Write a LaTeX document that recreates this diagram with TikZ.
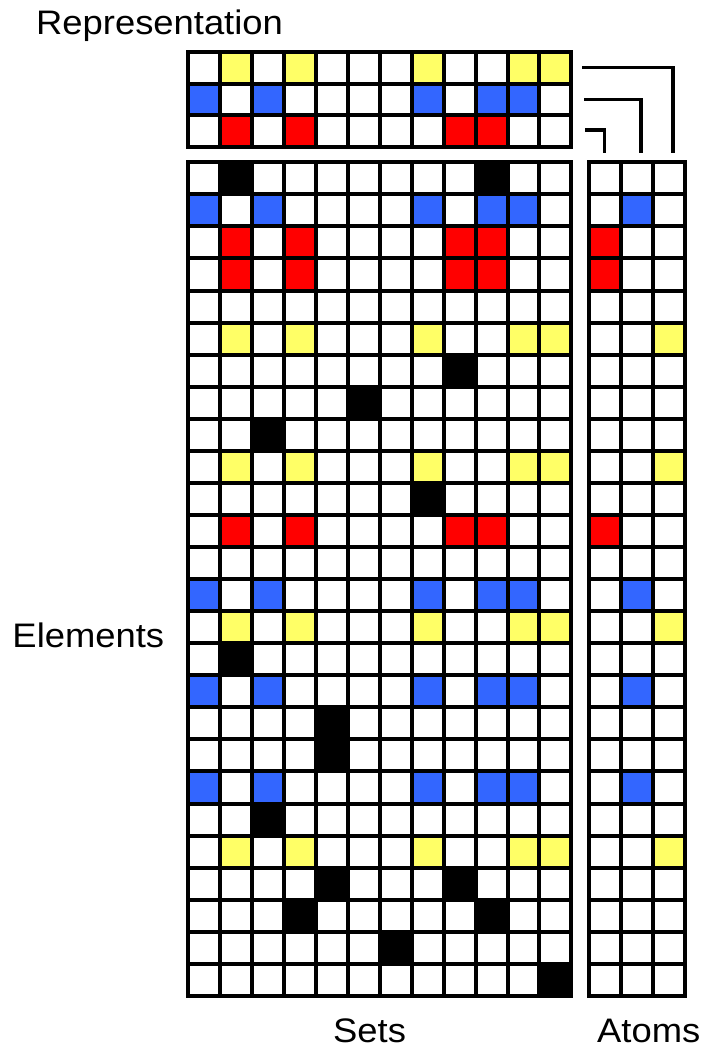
\documentclass[tikz,border=0pt]{standalone}
\usepackage{fontspec}
\setmainfont{Liberation Sans}
\definecolor{cyel}{HTML}{FFFF66}
\definecolor{cblu}{HTML}{3366FF}
\definecolor{cred}{HTML}{FF0000}
\begin{document}
\begin{tikzpicture}[x=1pt,y=-1pt,
  gridline/.style={line width=4pt,line cap=rect,black},
  conn/.style={line width=3.5pt,black},
  lbl/.style={inner sep=0pt,anchor=base west,font=\fontsize{34}{40}\selectfont}]
\useasboundingbox[fill=white] (0,0) rectangle (706,1051);

% ---------- Representation grid ----------
\begin{scope}[shift={(188,51.7)},x=31.95pt,y=-31.9pt]
  \foreach \c in {2,4,8,11,12} \fill[cyel] (\c-1,0) rectangle (\c,1);
  \foreach \c in {1,3,8,10,11} \fill[cblu] (\c-1,1) rectangle (\c,2);
  \foreach \c in {2,4,9,10} \fill[cred] (\c-1,2) rectangle (\c,3);
  \foreach \i in {0,...,12} \draw[gridline] (\i,0) -- (\i,3);
  \foreach \j in {0,...,3} \draw[gridline] (0,\j) -- (12,\j);
\end{scope}

% ---------- Sets grid ----------
\begin{scope}[shift={(188,162.3)},x=31.95pt,y=-32.06pt]
  \foreach \r in {2,14,17,20} {\foreach \c in {1,3,8,10,11} \fill[cblu] (\c-1,\r-1) rectangle (\c,\r);}
  \foreach \r in {3,4,12} {\foreach \c in {2,4,9,10} \fill[cred] (\c-1,\r-1) rectangle (\c,\r);}
  \foreach \r in {6,10,15,22} {\foreach \c in {2,4,8,11,12} \fill[cyel] (\c-1,\r-1) rectangle (\c,\r);}
  \foreach \r/\c in {1/2,1/10,7/9,8/6,9/3,11/8,16/2,18/5,19/5,21/3,23/5,23/9,24/4,24/10,25/7,26/12}
    \fill[black] (\c-1,\r-1) rectangle (\c,\r);
  \foreach \i in {0,...,12} \draw[gridline] (\i,0) -- (\i,26);
  \foreach \j in {0,...,26} \draw[gridline] (0,\j) -- (12,\j);
\end{scope}

% ---------- Atoms grid ----------
\begin{scope}[shift={(589.3,162.3)},x=32pt,y=-32.06pt]
  \foreach \r in {2,14,17,20} \fill[cblu] (1,\r-1) rectangle (2,\r);
  \foreach \r in {3,4,12} \fill[cred] (0,\r-1) rectangle (1,\r);
  \foreach \r in {6,10,15,22} \fill[cyel] (2,\r-1) rectangle (3,\r);
  \foreach \i in {0,...,3} \draw[gridline] (\i,0) -- (\i,26);
  \foreach \j in {0,...,26} \draw[gridline] (0,\j) -- (3,\j);
\end{scope}

% ---------- Connectors ----------
\coordinate (ys) at (582,67.3);  \coordinate (yc) at (673,67.3);  \coordinate (ye) at (673,153.5);
\coordinate (bs) at (584,99.5);  \coordinate (bc) at (641,99.5);  \coordinate (be) at (641,153.5);
\coordinate (rs) at (585,130);   \coordinate (rc) at (604.5,130); \coordinate (re) at (604.5,153.5);
\draw[conn] (ys) -- (yc) -- (ye);
\draw[conn] (bs) -- (bc) -- (be);
\draw[conn] (rs) -- (rc) -- (re);

% ---------- Labels ----------
\node[lbl] (trep) at (36,35) {\scalebox{1.07}[1]{Representation}};
\node[lbl] (tel) at (12.3,647) {\scalebox{1.07}[1]{Elements}};
\node[lbl] (tsets) at (333,1042) {\scalebox{1.07}[1]{Sets}};
\node[lbl] (tatoms) at (597,1042) {\scalebox{1.07}[1]{Atoms}};
\end{tikzpicture}
\end{document}
